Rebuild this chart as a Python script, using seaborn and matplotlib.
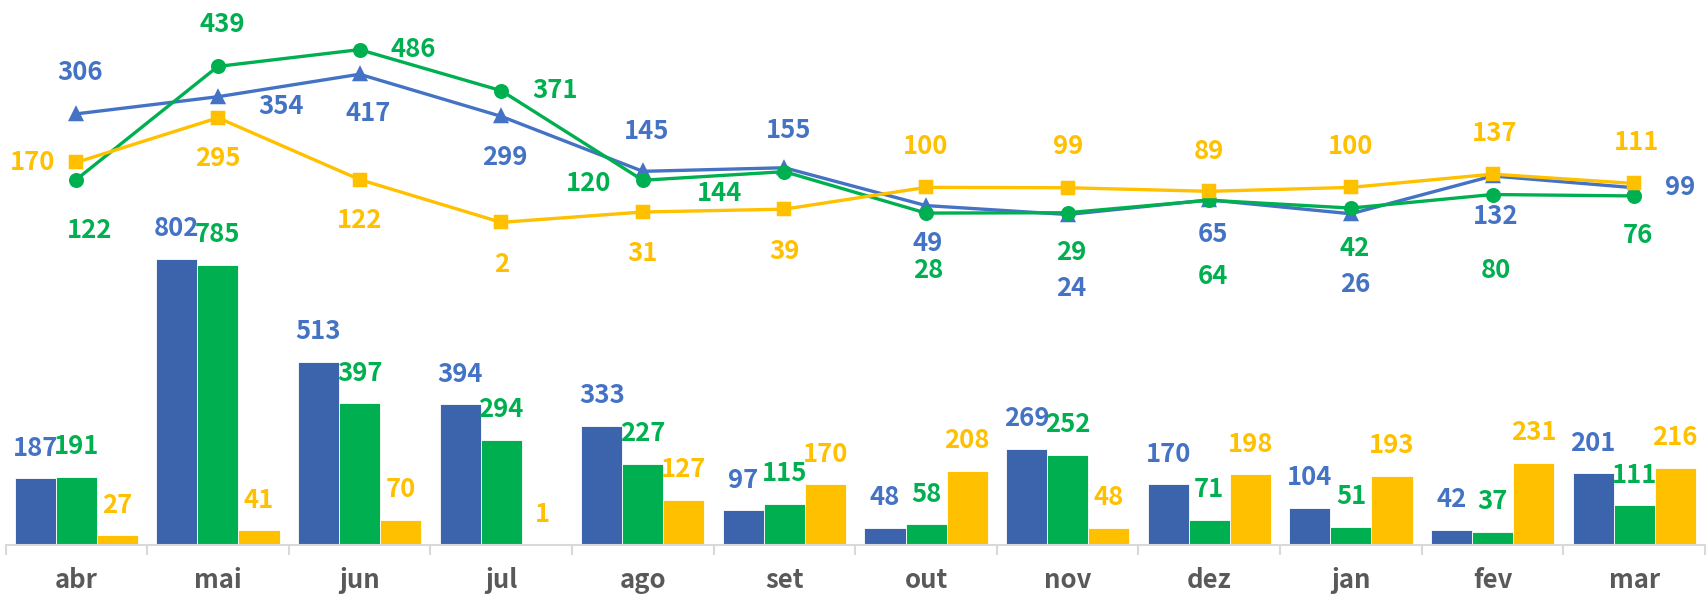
import numpy as np
import pandas as pd
import seaborn as sns
import matplotlib.pyplot as plt

months = ['abr', 'mai', 'jun', 'jul', 'ago', 'set', 'out', 'nov', 'dez', 'jan', 'fev', 'mar']

# bars (left axis)
bar_blue = [187, 802, 513, 394, 333, 97, 48, 269, 170, 104, 42, 201]
bar_green = [191, 785, 397, 294, 227, 115, 58, 252, 71, 51, 37, 111]
bar_yellow = [27, 41, 70, 1, 127, 170, 208, 48, 198, 193, 231, 216]

# lines (right axis)
line_blue = [306, 354, 417, 299, 145, 155, 49, 24, 65, 26, 132, 99]
line_green = [122, 439, 486, 371, 120, 144, 28, 29, 64, 42, 80, 76]
line_yellow = [170, 295, 122, 2, 31, 39, 100, 99, 89, 100, 137, 111]

BLUE_BAR = '#3C64AC'
BLUE = '#4472C4'
GREEN = '#00B050'
YELLOW = '#FFC000'
GREY = '#595959'

# where each line label sits relative to its point (pixels)
off_blue = [(4, 41), (63, -10), (9, -39), (4, -41), (4, 40), (4, 37),
            (2, -38), (4, -74), (4, -35), (4, -71), (3, -41), (46, 0)]
off_green = [(13, -51), (4, 42), (54, 0), (54, 0), (-54, -3), (-65, -22),
             (2, -57), (4, -40), (4, -76), (4, -40), (3, -76), (4, -40)]
off_yellow = [(-44, 0), (0, -41), (0, -41), (0, -42), (0, -41), (0, -42),
              (0, 41), (0, 41), (0, 40), (0, 41), (2, 41), (2, 41)]

sns.set_theme(style='white')
plt.rcParams['font.family'] = ['Noto Sans CJK JP', 'DejaVu Sans']

bars = pd.DataFrame({
    'mes': months * 3,
    'valor': bar_blue + bar_green + bar_yellow,
    'serie': ['b'] * 12 + ['g'] * 12 + ['y'] * 12,
})
lines = pd.DataFrame({
    'mes': months * 3,
    'valor': line_blue + line_green + line_yellow,
    'serie': ['b'] * 12 + ['g'] * 12 + ['y'] * 12,
})

fig = plt.figure(figsize=(17.08, 5.94), dpi=100)
ax = fig.add_axes([5.5 / 1708, 49 / 594, 1699.5 / 1708, 540 / 594])

sns.barplot(data=bars, x='mes', y='valor', hue='serie',
            palette={'b': BLUE_BAR, 'g': GREEN, 'y': YELLOW}, saturation=1,
            width=0.87, gap=0, edgecolor='white', linewidth=0.6,
            legend=False, ax=ax)

for cont, col in zip(ax.containers, [BLUE, GREEN, YELLOW]):
    ax.bar_label(cont, padding=12, color=col, fontsize=18.5, fontweight='bold')

ax2 = ax.twinx()
sns.pointplot(data=lines, x='mes', y='valor', hue='serie',
              palette={'b': BLUE, 'g': GREEN, 'y': YELLOW},
              markers=['^', 'o', 's'], linestyles='-', errorbar=None,
              markersize=9, linewidth=2.4, legend=False, ax=ax2)

for vals, offs, col in [(line_blue, off_blue, BLUE),
                        (line_green, off_green, GREEN),
                        (line_yellow, off_yellow, YELLOW)]:
    for i, (v, (dx, dy)) in enumerate(zip(vals, offs)):
        ax2.annotate(str(v), (i, v), xytext=(dx, dy), textcoords='offset pixels',
                     ha='center', va='center', color=col,
                     fontsize=18.5, fontweight='bold')

ax.set_ylim(0, 1513)
ax2.set_ylim(-902, 611)
ax.set_xlim(-0.5, 11.5)
ax2.set_xlim(-0.5, 11.5)

for a in (ax, ax2):
    a.set_xlabel('')
    a.set_ylabel('')
    a.set_yticks([])
    for s in ['top', 'left', 'right', 'bottom']:
        a.spines[s].set_visible(False)

ax.spines['bottom'].set_visible(True)
ax.spines['bottom'].set_color('#D9D9D9')
ax.spines['bottom'].set_linewidth(1.5)

ax.set_xticks(np.arange(12))
ax.set_xticklabels(months, color=GREY, fontsize=18.5, fontweight='bold')
ax.set_xticks(np.arange(-0.5, 12, 1), minor=True)
ax.tick_params(axis='x', which='major', length=0, pad=16)
ax.tick_params(axis='x', which='minor', length=7, width=1.5, color='#D9D9D9', bottom=True)

fig.savefig('out.png', dpi=100)
